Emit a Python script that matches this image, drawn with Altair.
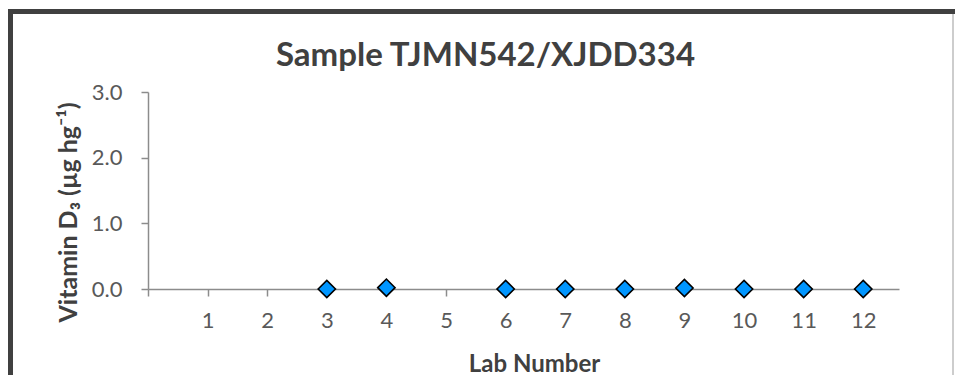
import altair as alt
import pandas as pd

# Data
labs = [3, 4, 6, 7, 8, 9, 10, 11, 12]
vitamin_d3 = [0.0, 0.02, 0.0, 0.0, 0.0, 0.015, 0.0, 0.0, 0.0]
x_ticks = [0, 1, 2, 3, 4, 5, 6, 7, 8, 9, 10, 11, 12]
y_ticks = [0, 1, 2, 3]

df = pd.DataFrame({"lab": labs, "value": vitamin_d3})

FONT = "Lato"
PW, PH = 751, 197

points = alt.Chart(df).mark_point(
    shape="diamond", filled=True, size=300, fill="#0096FF",
    stroke="#000000", strokeWidth=1.6, opacity=1
).encode(
    x=alt.X("lab:Q",
            scale=alt.Scale(domain=[0, 12.6], nice=False, zero=False),
            axis=alt.Axis(values=x_ticks, title="Lab Number",
                          labelExpr="datum.value == 0 ? '' : datum.label",
                          grid=False, domainColor="#8c8c8c", domainWidth=1.5,
                          tickColor="#8c8c8c", tickWidth=1.5, tickSize=7,
                          labelFont=FONT, labelFontSize=22, labelColor="#595959",
                          labelPadding=14, labelFlush=False,
                          titleFont=FONT, titleFontSize=24, titleFontWeight="bold",
                          titleColor="#404040", titleX=386, titleY=82,
                          titleBaseline="alphabetic", titleAlign="center")),
    y=alt.Y("value:Q",
            scale=alt.Scale(domain=[0, 3], nice=False),
            axis=alt.Axis(values=y_ticks, format=".1f",
                          title="Vitamin D₃ (µg hg⁻¹)",
                          grid=False, domainColor="#8c8c8c", domainWidth=1.5,
                          tickColor="#8c8c8c", tickWidth=1.5, tickSize=7,
                          labelFont=FONT, labelFontSize=22, labelColor="#595959",
                          labelPadding=19,
                          titleFont=FONT, titleFontSize=25, titleFontWeight="bold",
                          titleColor="#404040", titleX=-80, titleY=120,
                          titleAngle=270, titleBaseline="middle",
                          titleAlign="center")),
)

frame = alt.Data(values=[{}])
top_border = alt.Chart(frame).mark_rule(color="#404040", strokeWidth=5).encode(
    x=alt.value(-140), x2=alt.value(807), y=alt.value(-80.5)
)
left_border = alt.Chart(frame).mark_rule(color="#404040", strokeWidth=5).encode(
    x=alt.value(-137.5), y=alt.value(-83), y2=alt.value(290)
)
right_border = alt.Chart(frame).mark_rule(color="#bdbdbd", strokeWidth=1.5).encode(
    x=alt.value(805), y=alt.value(-78), y2=alt.value(290)
)

chart = alt.layer(top_border, left_border, right_border, points).properties(
    width=PW, height=PH,
    title=alt.TitleParams("Sample TJMN542/XJDD334", font=FONT, fontSize=33,
                          fontWeight="bold", color="#404040",
                          anchor="middle", frame="group", dx=-38, dy=80,
                          offset=14),
    autosize=alt.AutoSizeParams(type="none"),
    padding={"left": 140, "top": 84, "right": 56, "bottom": 86},
).configure(
    background="white",
    view=alt.ViewConfig(stroke="transparent", strokeWidth=0),
)

chart.save("out.html", embed_options={"renderer": "svg", "actions": False})
